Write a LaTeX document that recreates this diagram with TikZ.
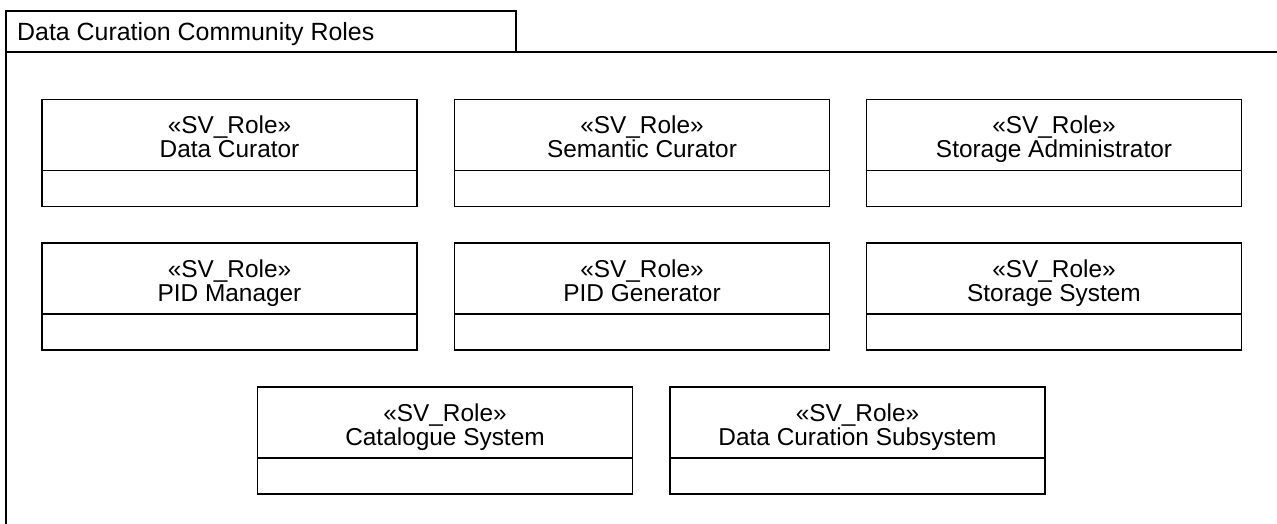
\documentclass[tikz,border=0pt]{standalone}
\usepackage{fontspec}
\setmainfont{Liberation Sans}
\usetikzlibrary{positioning}

\newcommand{\rolefont}{\fontsize{24.5}{24.5}\selectfont\lineskiplimit-50pt\relax}

\tikzset{
  roletitle/.style={draw, line width=1.2bp, minimum width=375bp, minimum height=71bp,
    inner sep=0pt, outer sep=0pt, align=center, text height=46bp, text depth=0bp,
    font=\rolefont},
  rolebody/.style={draw, line width=1.2bp, minimum width=375bp, minimum height=36bp,
    inner sep=0pt, outer sep=0pt},
}

\begin{document}
\begin{tikzpicture}[x=1bp, y=-1bp]
        \useasboundingbox (0,0) rectangle (1277,524);

        % Package frame with its tab
        \draw[line width=1.2bp] (6,52) -- (6,11) -- (516,11) -- (516,52);
        \draw[line width=1.2bp] (6,524) -- (6,52) -- (1277,52);
        \node[anchor=base west, inner sep=0pt, font=\fontsize{25}{26}\selectfont] (frametitle) at (17,41) {Data Curation Community Roles};

        % First row
        \node[roletitle] (datacurator) at (229.5,135) {«SV\_Role»\\Data Curator};
        \node[rolebody, below=0pt of datacurator] (datacuratorbody) {};
        \node[roletitle] (semcurator) at (642,135) {«SV\_Role»\\Semantic Curator};
        \node[rolebody, below=0pt of semcurator] (semcuratorbody) {};
        \node[roletitle] (storadmin) at (1054,135) {«SV\_Role»\\Storage Administrator};
        \node[rolebody, below=0pt of storadmin] (storadminbody) {};

        % Second row
        \node[roletitle] (pidmanager) at (229.5,278.5) {«SV\_Role»\\PID Manager};
        \node[rolebody, below=0pt of pidmanager] (pidmanagerbody) {};
        \node[roletitle] (pidgen) at (642,278.5) {«SV\_Role»\\PID Generator};
        \node[rolebody, below=0pt of pidgen] (pidgenbody) {};
        \node[roletitle] (storsystem) at (1054,278.5) {«SV\_Role»\\Storage System};
        \node[rolebody, below=0pt of storsystem] (storsystembody) {};

        % Third row
        \node[roletitle] (catalogue) at (445,422.5) {«SV\_Role»\\Catalogue System};
        \node[rolebody, below=0pt of catalogue] (cataloguebody) {};
        \node[roletitle] (dcsubsystem) at (857.5,422.5) {«SV\_Role»\\Data Curation Subsystem};
        \node[rolebody, below=0pt of dcsubsystem] (dcsubsystembody) {};

      \end{tikzpicture}
\end{document}
